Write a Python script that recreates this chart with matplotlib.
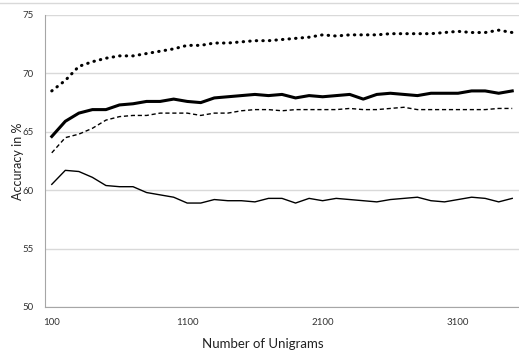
import matplotlib
matplotlib.use("Agg")
import matplotlib.pyplot as plt
import numpy as np

# number of unigrams (x categories)
unigrams = list(range(100, 3600, 100))

# accuracy series
thick_dotted = [68.5, 69.4, 70.6, 71.0, 71.3, 71.5, 71.5, 71.7, 71.9, 72.1,
                72.4, 72.4, 72.6, 72.6, 72.7, 72.8, 72.8, 72.9, 73.0, 73.1,
                73.3, 73.2, 73.3, 73.3, 73.3, 73.4, 73.4, 73.4, 73.4, 73.5,
                73.6, 73.5, 73.5, 73.7, 73.5]
thick_solid = [64.6, 65.9, 66.6, 66.9, 66.9, 67.3, 67.4, 67.6, 67.6, 67.8,
               67.6, 67.5, 67.9, 68.0, 68.1, 68.2, 68.1, 68.2, 67.9, 68.1,
               68.0, 68.1, 68.2, 67.8, 68.2, 68.3, 68.2, 68.1, 68.3, 68.3,
               68.3, 68.5, 68.5, 68.3, 68.5]
thin_dashed = [63.2, 64.5, 64.8, 65.3, 66.0, 66.3, 66.4, 66.4, 66.6, 66.6,
               66.6, 66.4, 66.6, 66.6, 66.8, 66.9, 66.9, 66.8, 66.9, 66.9,
               66.9, 66.9, 67.0, 66.9, 66.9, 67.0, 67.1, 66.9, 66.9, 66.9,
               66.9, 66.9, 66.9, 67.0, 67.0]
thin_solid = [60.5, 61.7, 61.6, 61.1, 60.4, 60.3, 60.3, 59.8, 59.6, 59.4,
              58.9, 58.9, 59.2, 59.1, 59.1, 59.0, 59.3, 59.3, 58.9, 59.3,
              59.1, 59.3, 59.2, 59.1, 59.0, 59.2, 59.3, 59.4, 59.1, 59.0,
              59.2, 59.4, 59.3, 59.0, 59.3]

yticks = [50, 55, 60, 65, 70, 75]
xticks = [100, 1100, 2100, 3100]

plt.rcParams['font.family'] = ['Lato', 'DejaVu Sans']

fig = plt.figure(figsize=(5.19, 3.54), dpi=100)
ax = fig.add_axes([45 / 519, 1 - 307 / 354, 1 - 45 / 519, (307 - 15) / 354])

# faint chart border along the top
fig.add_artist(plt.Line2D([0, 1], [1 - 3 / 354, 1 - 3 / 354],
                          transform=fig.transFigure, color='#d9d9d9', lw=1))

x = np.array(unigrams)
ax.plot(x, thick_dotted, color='black', lw=2.2, linestyle=(0, (0.15, 2.0)),
        dash_capstyle='round')
ax.plot(x, thick_solid, color='black', lw=2.2, solid_joinstyle='round')
ax.plot(x, thin_dashed, color='black', lw=1.0, linestyle=(0, (3, 2)))
ax.plot(x, thin_solid, color='black', lw=1.0)

ax.set_xlim(50, 3550)
ax.set_ylim(50, 75)
ax.set_yticks(yticks)
ax.set_xticks(xticks)
ax.tick_params(length=0, labelsize=7, colors='#333333')
ax.tick_params(axis='y', pad=8)
ax.tick_params(axis='x', pad=8)
ax.grid(axis='y', color='#d9d9d9', lw=1)
ax.set_axisbelow(True)
for s in ['top', 'right']:
    ax.spines[s].set_visible(False)
ax.spines['left'].set_color('#a6a6a6')
ax.spines['bottom'].set_color('#a6a6a6')

ax.set_xlabel("Number of Unigrams", fontsize=9.5, color='#222222')
ax.xaxis.set_label_coords(0.46, -0.105)
ax.set_ylabel("Accuracy in %", fontsize=9, color='#222222')
ax.yaxis.set_label_coords(-0.045, 0.5)

fig.savefig("out.png", dpi=100)
